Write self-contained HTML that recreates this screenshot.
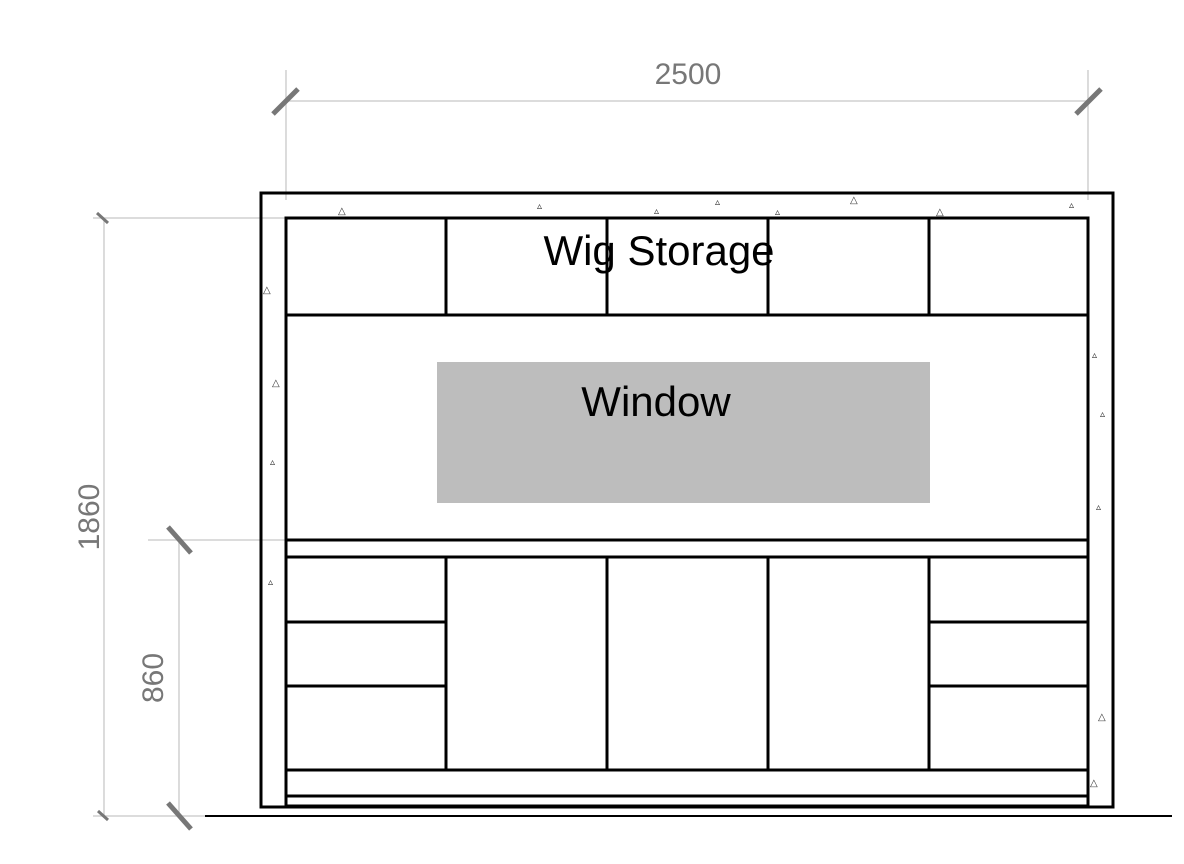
<!DOCTYPE html>
<html><head><meta charset="utf-8"><style>
html,body{margin:0;padding:0;background:#fff;}
svg{display:block;}
</style></head><body>
<svg width="1184" height="864" viewBox="0 0 1184 864" xmlns="http://www.w3.org/2000/svg">
<rect width="1184" height="864" fill="#fff"/>
<g stroke="#c8c8c8" stroke-width="1.3" fill="none">
<line x1="286" y1="70" x2="286" y2="200"/>
<line x1="1088" y1="70" x2="1088" y2="200"/>
<line x1="286" y1="101" x2="1088" y2="101"/>
<line x1="93" y1="218" x2="286" y2="218"/>
<line x1="104" y1="218" x2="104" y2="816"/>
<line x1="148" y1="540" x2="286" y2="540"/>
<line x1="179" y1="540" x2="179" y2="816"/>
<line x1="93" y1="816" x2="205" y2="816"/>
</g>
<g stroke="#777" stroke-width="5" stroke-linecap="butt">
<line x1="273" y1="114" x2="298" y2="89"/>
<line x1="1076" y1="114" x2="1101" y2="89"/>
<line x1="168" y1="527" x2="191" y2="553"/>
<line x1="168" y1="803" x2="191" y2="829"/>
<line x1="97" y1="213" x2="108" y2="223" stroke-width="3"/>
<line x1="98" y1="811" x2="108" y2="820" stroke-width="3"/>
</g>
<g font-family="Liberation Sans, sans-serif" fill="#777" font-size="30">
<text x="688" y="84" text-anchor="middle">2500</text>
<text transform="translate(99,517) rotate(-90)" text-anchor="middle">1860</text>
<text transform="translate(163,678) rotate(-90)" text-anchor="middle">860</text>
</g>
<rect x="437" y="362" width="493" height="141" fill="#bdbdbd"/>
<g stroke="#000" stroke-width="3" fill="none">
<rect x="261" y="193" width="852" height="614"/>
<rect x="286" y="218" width="802" height="588"/>
<line x1="286" y1="315" x2="1088" y2="315"/>
<line x1="286" y1="540" x2="1088" y2="540"/>
<line x1="286" y1="557" x2="1088" y2="557"/>
<line x1="286" y1="770" x2="1088" y2="770"/>
<line x1="286" y1="796" x2="1088" y2="796"/>
<line x1="446" y1="218" x2="446" y2="315"/>
<line x1="607" y1="218" x2="607" y2="315"/>
<line x1="768" y1="218" x2="768" y2="315"/>
<line x1="929" y1="218" x2="929" y2="315"/>
<line x1="446" y1="557" x2="446" y2="770"/>
<line x1="607" y1="557" x2="607" y2="770"/>
<line x1="768" y1="557" x2="768" y2="770"/>
<line x1="929" y1="557" x2="929" y2="770"/>
<line x1="286" y1="622" x2="446" y2="622"/>
<line x1="286" y1="686" x2="446" y2="686"/>
<line x1="929" y1="622" x2="1088" y2="622"/>
<line x1="929" y1="686" x2="1088" y2="686"/>
<line x1="205" y1="816" x2="1172" y2="816" stroke-width="2"/>
</g>
<g font-family="DejaVu Sans, sans-serif" font-size="10" fill="#333">
<text x="338" y="214">△</text><text x="537" y="209">▵</text><text x="654" y="214">▵</text>
<text x="715" y="205">▵</text><text x="775" y="215">▵</text><text x="850" y="203">△</text>
<text x="936" y="215">△</text><text x="1069" y="208">▵</text>
<text x="263" y="293">△</text><text x="272" y="386">△</text><text x="270" y="465">▵</text>
<text x="268" y="585">▵</text><text x="1092" y="358">▵</text><text x="1100" y="417">▵</text>
<text x="1096" y="510">▵</text><text x="1098" y="720">△</text><text x="1090" y="786">△</text>
</g>
<g font-family="Liberation Sans, sans-serif" fill="#000" font-size="42">
<text x="659" y="265" text-anchor="middle">Wig Storage</text>
<text x="656" y="416" text-anchor="middle">Window</text>
</g>
</svg>
</body></html>
